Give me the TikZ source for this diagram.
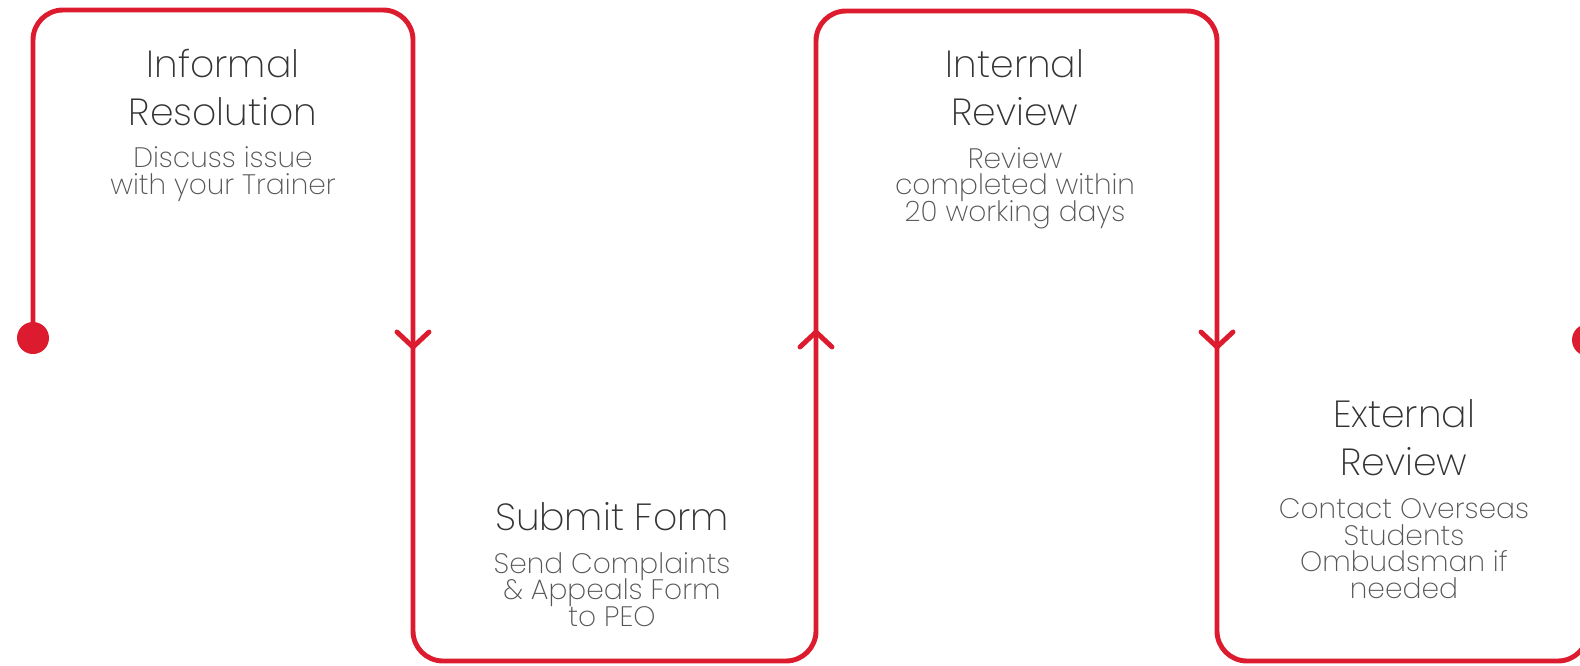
\documentclass[tikz,border=0pt]{standalone}
\usepackage{fontspec}
\setmainfont{Poppins ExtraLight}
\setlength{\lineskiplimit}{-20pt}
\definecolor{flowred}{HTML}{DC1C2E}
\definecolor{headgray}{HTML}{333333}
\definecolor{subgray}{HTML}{555555}
\tikzset{
  route/.style={flowred, line width=2.8pt, rounded corners=0.6cm},
  chevron/.style={flowred, line width=2.8pt, line cap=round, line join=round},
  heading/.style={headgray, align=center, anchor=base, inner sep=0pt, font=\fontsize{21.5}{27.2}\selectfont},
  detail/.style={subgray, align=center, anchor=base, inner sep=0pt, font=\fontsize{16}{15}\selectfont},
}
\begin{document}
\begin{tikzpicture}[x=0.02cm, y=-0.02cm]
    \useasboundingbox (0,0) rectangle (1580,666);

    \coordinate (start) at (33,338);
    \coordinate (finish) at (1588,340);

    \draw[route] (start) -- (33,10) -- (413,10) -- (413,661) -- (816,661)
        -- (816,11) -- (1217,11) -- (1217,661) -- (1588,661) -- (finish);

    \fill[flowred] (start) circle (16);
    \fill[flowred] (finish) circle (16);

    \draw[chevron] (397,332) -- (413,347) -- (429,332);
    \draw[chevron] (800,347) -- (816,332) -- (832,347);
    \draw[chevron] (1201,332) -- (1217,347) -- (1233,332);

    % anchors sit on the last line
    \node[heading] (informal) at (223,125) {Informal\\Resolution};
    \node[detail] (informal-text) at (223,194) {Discuss issue\\with your Trainer};

    \node[heading] (submit) at (612,530) {Submit Form};
    \node[detail] (submit-text) at (612,626) {Send Complaints\\\& Appeals Form\\to PEO};

    \node[heading] (internal) at (1015,125) {Internal\\Review};
    \node[detail] (internal-text) at (1015,221) {Review\\completed within\\20 working days};

    \node[heading] (external) at (1404,475) {External\\Review};
    \node[detail] (external-text) at (1404,598) {Contact Overseas\\Students\\Ombudsman if\\needed};

\end{tikzpicture}
\end{document}
